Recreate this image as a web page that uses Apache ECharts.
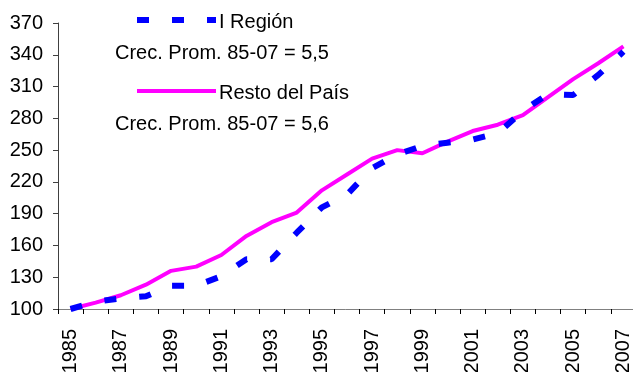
<!DOCTYPE html>
<html>
<head>
<meta charset="utf-8">
<script src="https://cdn.jsdelivr.net/npm/echarts@6/dist/echarts.min.js"></script>
<style>
  html, body { margin: 0; padding: 0; background: #fff; }
  #chart { width: 633px; height: 372px; }
</style>
</head>
<body>
<div id="chart"></div>
<script>
// Index of activity, 1985 = 100
const years = ['1985','1986','1987','1988','1989','1990','1991','1992','1993','1994','1995','1996',
               '1997','1998','1999','2000','2001','2002','2003','2004','2005','2006','2007'];
const iRegion = [100, 107, 110, 112, 122, 122, 131, 147, 147, 172, 196, 208,
                 233, 246, 254, 257, 260, 266, 287, 303, 302, 321, 343];
const restoPais = [100, 106, 113, 123, 136, 140, 151, 169, 182, 191, 212, 227,
                   242, 250, 247, 258, 268, 274, 283, 300, 317, 332, 348];
const seriesNames = ['I Región', 'Resto del País'];
const growthNotes = ['Crec. Prom. 85-07 = 5,5', 'Crec. Prom. 85-07 = 5,6'];
const yTicks = { min: 100, max: 370, step: 30 };

const FONT = 'Liberation Sans, Arial, sans-serif';
const BLUE = '#0000ff';
const MAGENTA = '#ff00ff';
const BLUE_DASH = [12, 23];

const chart = echarts.init(document.getElementById('chart'), null, { renderer: 'canvas' });

// Legend block: line sample, series name, and the growth note underneath
function legendBlock(y, name, note, lineStyle) {
  return [
    { type: 'line', shape: { x1: 137, y1: y, x2: 216, y2: y }, style: lineStyle, silent: true },
    { type: 'text', x: 219, y: y + 2, style: { text: name, font: '20px ' + FONT, fill: '#000', verticalAlign: 'middle' } },
    { type: 'text', x: 115, y: y + 33, style: { text: note, font: '20px ' + FONT, fill: '#000', verticalAlign: 'middle' } }
  ];
}

chart.setOption({
  animation: false,
  backgroundColor: '#ffffff',
  grid: { left: 58, right: -3, top: 23, bottom: 63, containLabel: false, outerBoundsMode: 'none' },
  graphic: [].concat(
    legendBlock(20, seriesNames[0], growthNotes[0], { stroke: BLUE, lineWidth: 6, lineDash: BLUE_DASH, lineCap: 'butt' }),
    legendBlock(91, seriesNames[1], growthNotes[1], { stroke: MAGENTA, lineWidth: 4 })
  ),
  xAxis: {
    type: 'category',
    data: years,
    boundaryGap: true,
    axisLine: { lineStyle: { color: '#808080', width: 1 } },
    axisTick: { show: true, interval: 0, length: 5, lineStyle: { color: '#000' } },
    axisLabel: { interval: 1, rotate: 90, margin: 20, fontFamily: FONT, fontSize: 20, color: '#000' },
    splitLine: { show: false }
  },
  yAxis: {
    type: 'value',
    min: yTicks.min, max: yTicks.max, interval: yTicks.step,
    axisLine: { show: true, lineStyle: { color: '#404040', width: 1 } },
    axisTick: { show: true, length: 5, lineStyle: { color: '#404040' } },
    axisLabel: { margin: 15, fontFamily: FONT, fontSize: 20, color: '#000' },
    splitLine: { show: false }
  },
  series: [
    {
      name: seriesNames[0], type: 'line', data: iRegion, symbol: 'none', z: 3,
      lineStyle: { color: BLUE, width: 6, type: BLUE_DASH, cap: 'butt' }
    },
    {
      name: seriesNames[1], type: 'line', data: restoPais, symbol: 'none', z: 2,
      lineStyle: { color: MAGENTA, width: 4, type: 'solid' }
    }
  ]
});
</script>
</body>
</html>
